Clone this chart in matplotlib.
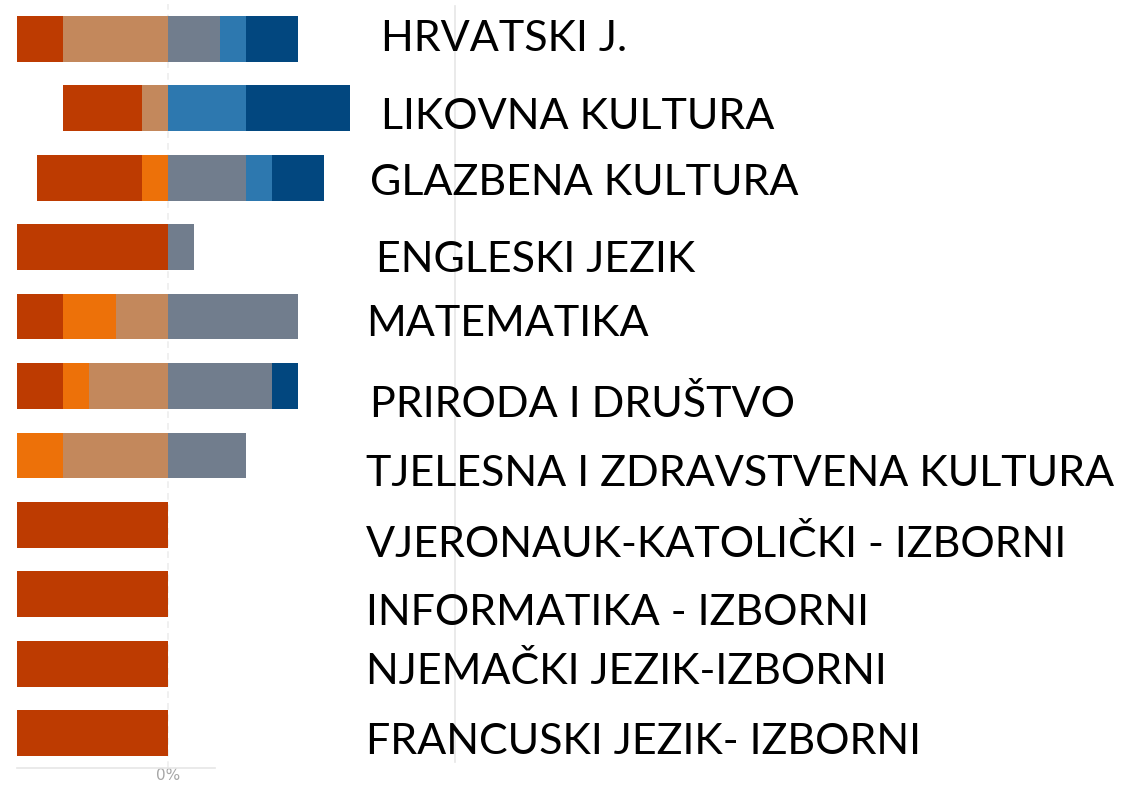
import matplotlib
matplotlib.use("Agg")
import matplotlib.pyplot as plt
import numpy as np

# subjects, top to bottom
subjects = ["HRVATSKI J.", "LIKOVNA KULTURA", "GLAZBENA KULTURA", "ENGLESKI JEZIK",
            "MATEMATIKA", "PRIRODA I DRUŠTVO", "TJELESNA I ZDRAVSTVENA KULTURA",
            "VJERONAUK-KATOLIČKI - IZBORNI", "INFORMATIKA - IZBORNI",
            "NJEMAČKI JEZIK-IZBORNI", "FRANCUSKI JEZIK- IZBORNI"]

# left side of the diverging bars (drawn from 0 outward: tan, orange, red)
red = [2, 3, 4, 6, 2, 2, 0, 6, 6, 6, 6]
orange = [0, 0, 1, 0, 2, 1, 2, 0, 0, 0, 0]
tan = [4, 1, 0, 0, 2, 3, 4, 0, 0, 0, 0]
# right side (from 0 outward: gray, blue, dark blue)
gray = [2, 0, 3, 1, 5, 4, 3, 0, 0, 0, 0]
blue = [1, 3, 1, 0, 0, 0, 0, 0, 0, 0, 0]
darkblue = [2, 4, 2, 0, 0, 1, 0, 0, 0, 0, 0]

c_red, c_orange, c_tan = "#BD3B01", "#ED7109", "#C3885C"
c_gray, c_blue, c_dark = "#717D8D", "#2D78AF", "#02477F"

W, H = 1126, 785
fig = plt.figure(figsize=(W / 100, H / 100), dpi=100)
# axes spans from the left edge of the bars to the grey line at the right
ax = fig.add_axes([16.7 / W, 17 / H, (456 - 16.7) / W, (768 - 4) / H])

y = np.arange(len(subjects))
h = 0.66

# left stacks go negative
left_tan = -np.array(tan)
left_orange = left_tan - np.array(orange)
ax.barh(y, left_tan, height=h, color=c_tan, zorder=2)
ax.barh(y, -np.array(orange), left=left_tan, height=h, color=c_orange, zorder=2)
ax.barh(y, -np.array(red), left=left_orange, height=h, color=c_red, zorder=2)

# right stacks
g = np.array(gray)
b = np.array(blue)
ax.barh(y, g, height=h, color=c_gray, zorder=2)
ax.barh(y, b, left=g, height=h, color=c_blue, zorder=2)
ax.barh(y, darkblue, left=g + b, height=h, color=c_dark, zorder=2)

ax.set_xlim(-5.79, 11.05)
ax.set_ylim(len(subjects) - 0.5, -0.5)

for s in ax.spines.values():
    s.set_visible(False)
ax.set_yticks([])
ax.set_xticks([0])
ax.set_xticklabels(["0%"], color="#A6A6A6", fontsize=11)
ax.tick_params(axis="x", length=0, pad=0)

# zero line and the light gridline on the right
ax.axvline(0, color="#EDEDED", lw=1.2, ls=(0, (4, 3)), zorder=1)
ax.axvline(11.02, ymin=0.008, ymax=0.998, color="#E6E6E6", lw=1.2, zorder=1)
# short baseline under the bars
ax.axhline(len(subjects) - 0.5, xmin=0, xmax=(1.81 + 5.79) / (11.05 + 5.79),
           color="#E6E6E6", lw=1.2, clip_on=False)

# labels were placed by hand next to the bars
label_x = [381, 381, 370, 376, 366, 370, 366, 366, 366, 366, 366]
label_base = [51, 129, 195, 272, 336, 417, 486, 557, 625, 684, 754]
for name, lx, lb in zip(subjects, label_x, label_base):
    fig.text(lx / W, 1 - lb / H, name, fontsize=31, family="Lato",
             color="black", ha="left", va="baseline")

fig.savefig("out.png", dpi=100)
